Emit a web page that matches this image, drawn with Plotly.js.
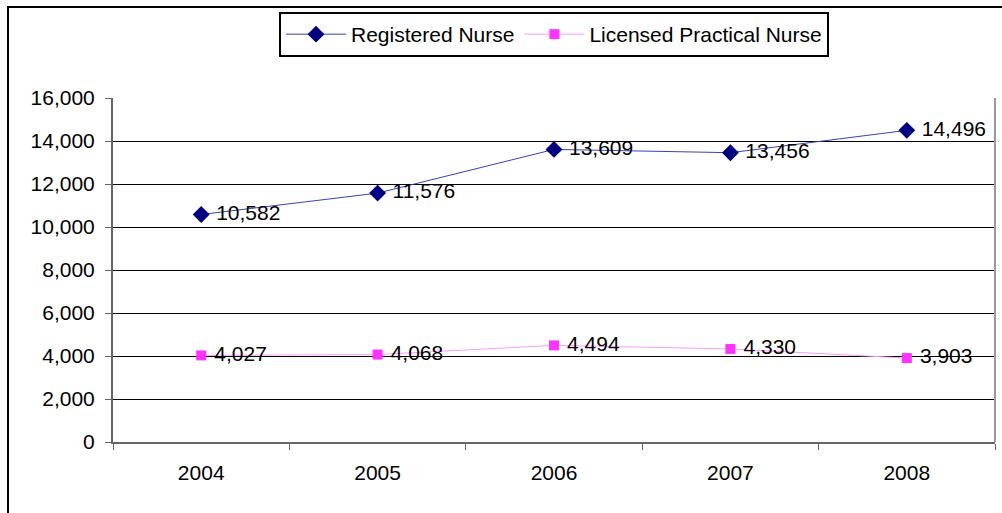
<!DOCTYPE html>
<html>
<head>
<meta charset="utf-8">
<script src="https://cdn.plot.ly/plotly-3.0.1.min.js"></script>
<style>
html,body{margin:0;padding:0;background:#fff;}
#chart{width:1002px;height:513px;}
</style>
</head>
<body>
<div id="chart"></div>
<script>
var years = ['2004', '2005', '2006', '2007', '2008'];
var registeredNurse = [10582, 11576, 13609, 13456, 14496];
var licensedPracticalNurse = [4027, 4068, 4494, 4330, 3903];
var seriesNames = ['Registered Nurse', 'Licensed Practical Nurse'];

function fmt(v){ return '\u00a0' + v.toLocaleString('en-US'); }

var font = 'Liberation Sans, Arial, sans-serif';
var fs = 21;

var traces = [
  {
    x: years, y: registeredNurse, name: seriesNames[0],
    type: 'scatter', mode: 'lines+markers+text',
    line: {color: '#3344bb', width: 1},
    marker: {symbol: 'diamond', size: 13, color: '#000080'},
    text: registeredNurse.map(fmt),
    textposition: 'middle right',
    textfont: {family: font, size: fs, color: '#000'},
    cliponaxis: false
  },
  {
    x: years, y: licensedPracticalNurse, name: seriesNames[1],
    type: 'scatter', mode: 'lines+markers+text',
    line: {color: '#ff99ff', width: 1},
    marker: {symbol: 'square', size: 10, color: '#ff33ff'},
    text: licensedPracticalNurse.map(fmt),
    textposition: 'middle right',
    textfont: {family: font, size: fs, color: '#000'},
    cliponaxis: false
  }
];

var L = 113, R = 995, T = 98, B = 442, W = 1002, H = 513;
var pw = R - L, ph = B - T;
function px(x){ return (x - L) / pw; }
function py(y){ return (B - y) / ph; }

var layout = {
  width: W, height: H,
  margin: {l: L, r: W - R, t: T, b: H - B, pad: 0},
  paper_bgcolor: '#fff', plot_bgcolor: '#fff',
  font: {family: font, size: fs, color: '#000'},
  showlegend: true,
  legend: {
    orientation: 'h',
    x: px(554), xanchor: 'center',
    y: py(12), yanchor: 'top',
    bordercolor: '#000', borderwidth: 2,
    bgcolor: '#fff',
    font: {family: font, size: fs, color: '#000'},
    itemwidth: 60,
    tracegroupgap: 0
  },
  xaxis: {
    type: 'category',
    range: [-0.5, 4.5],
    tickson: 'boundaries',
    ticks: 'outside', ticklen: 6, tickcolor: '#666', tickwidth: 1,
    ticklabelstandoff: 11,
    showline: true, linecolor: '#666', linewidth: 2,
    showgrid: false, zeroline: false,
    tickfont: {family: font, size: fs, color: '#000'},
    fixedrange: true
  },
  yaxis: {
    range: [0, 16000], dtick: 2000, tickformat: ',',
    ticks: 'outside', ticklen: 6, tickcolor: '#666', tickwidth: 1,
    ticklabelstandoff: 6,
    showline: true, linecolor: '#666', linewidth: 2,
    showgrid: true, gridcolor: '#000', gridwidth: 1,
    zeroline: false,
    tickfont: {family: font, size: fs, color: '#000'},
    fixedrange: true
  },
  shapes: [
    {type: 'rect', xref: 'paper', yref: 'paper',
     x0: px(8), x1: px(1010), y0: py(520), y1: py(7),
     line: {color: '#000', width: 2}, fillcolor: 'rgba(0,0,0,0)', layer: 'below'},
    {type: 'line', xref: 'paper', yref: 'paper',
     x0: 1, x1: 1, y0: 0, y1: 1,
     line: {color: '#999', width: 2}}
  ]
};

Plotly.newPlot('chart', traces, layout, {displayModeBar: false, staticPlot: true});
</script>
</body>
</html>
